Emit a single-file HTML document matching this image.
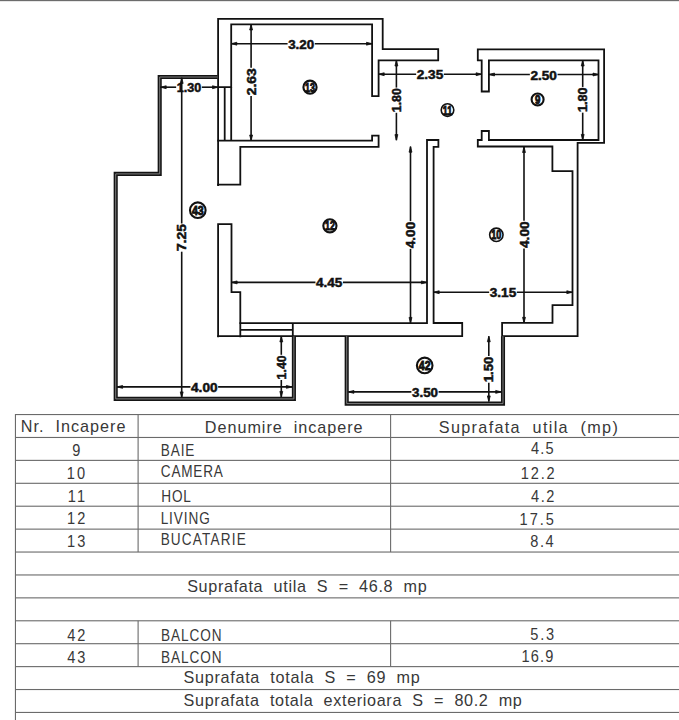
<!DOCTYPE html>
<html><head><meta charset="utf-8">
<style>
html,body{margin:0;padding:0;background:#fff;}
body{width:679px;height:720px;overflow:hidden;}
svg{display:block;}
.d{font-family:"Liberation Sans",sans-serif;font-weight:bold;font-size:12.3px;fill:#111;stroke:#111;stroke-width:0.5px;}
.l{font-family:"Liberation Sans",sans-serif;font-weight:bold;fill:#111;stroke:#111;stroke-width:0.9px;}
.t{font-family:"Liberation Sans",sans-serif;font-size:16.2px;fill:#383838;white-space:pre;}
</style></head>
<body>
<svg width="679" height="720" viewBox="0 0 679 720" xml:space="preserve">
<rect width="679" height="720" fill="#fff"/>
<rect x="0" y="0" width="679" height="1" fill="#6c6c6c"/>
<rect x="0" y="1" width="679" height="1" fill="#e6e6e6"/>
<path d="M218.1,185 V18.8 H382.7 V49.2 H438.2 V60.4 H378.6 V96.2 H372.1 V24.4 H231.2 V87.2 H218.1" fill="none" stroke="#111" stroke-width="1.8" stroke-linejoin="miter" stroke-linecap="square"/>
<line x1="224.7" y1="87.2" x2="224.7" y2="140.6" stroke="#111" stroke-width="1.8" stroke-linecap="butt"/>
<line x1="231.2" y1="87.2" x2="231.2" y2="140.6" stroke="#111" stroke-width="1.8" stroke-linecap="butt"/>
<path d="M218.1,140.6 H372.1 V135.7 H378.6 V146.8 H240.3 V184.6 H218.1" fill="none" stroke="#111" stroke-width="1.8" stroke-linejoin="miter" stroke-linecap="square"/>
<path d="M218.1,336.3 V224.1 H231.5 V292.2 H240.3 V336.3" fill="none" stroke="#111" stroke-width="1.8" stroke-linejoin="miter" stroke-linecap="square"/>
<path d="M240.3,323.2 H427.0 V140.0 H438.4 V146.9 H433.6 V323.0 H462.2 V336.2 H218.1" fill="none" stroke="#111" stroke-width="1.8" stroke-linejoin="miter" stroke-linecap="square"/>
<line x1="240.3" y1="329.8" x2="292.8" y2="329.8" stroke="#111" stroke-width="1.8" stroke-linecap="butt"/>
<line x1="292.8" y1="323.2" x2="292.8" y2="336.3" stroke="#111" stroke-width="1.8" stroke-linecap="butt"/>
<path d="M477.8,49.3 H604.1 V142.9 H577.6 V336.1 H502.1 V322.9 H552.5 V305.1 H572.5 V171.2 H552.4 V146.5 H477.8 V140.0 H481.7 V131.0 H488.9 V140.0 H598.5 V60.4 H488.9 V91.5 H481.7 V60.4 H477.8 Z" fill="none" stroke="#111" stroke-width="1.8" stroke-linejoin="miter" stroke-linecap="square"/>
<path d="M217.6,77.0 H159.7 V173.9 H115.7 V398.9 H293.9 V336.3" fill="none" stroke="#151515" stroke-width="4.1" stroke-linejoin="miter"/>
<path d="M217.6,77.0 H159.7 V173.9 H115.7 V398.9 H293.9 V336.3" fill="none" stroke="#8a8a8a" stroke-width="0.9" stroke-linejoin="miter"/>
<path d="M346.7,336.2 V403.6 H503.0 V336.2" fill="none" stroke="#151515" stroke-width="4.1" stroke-linejoin="miter"/>
<path d="M346.7,336.2 V403.6 H503.0 V336.2" fill="none" stroke="#8a8a8a" stroke-width="0.9" stroke-linejoin="miter"/>
<line x1="231.2" y1="43.7" x2="287.59999999999997" y2="43.7" stroke="#111" stroke-width="1.6" stroke-linecap="butt"/>
<line x1="314.8" y1="43.7" x2="372.1" y2="43.7" stroke="#111" stroke-width="1.6" stroke-linecap="butt"/>
<polygon points="231.20,43.70 236.80,42.25 236.80,45.15" fill="#111" stroke="#111" stroke-width="0.8" stroke-linejoin="round"/>
<polygon points="372.10,43.70 366.50,42.25 366.50,45.15" fill="#111" stroke="#111" stroke-width="0.8" stroke-linejoin="round"/>
<text x="301.2" y="44.7" text-anchor="middle" dominant-baseline="central" class="d" textLength="26" lengthAdjust="spacingAndGlyphs">3.20</text>
<line x1="251.1" y1="24.4" x2="251.1" y2="67.7" stroke="#111" stroke-width="1.6" stroke-linecap="butt"/>
<line x1="251.1" y1="95.89999999999999" x2="251.1" y2="140.6" stroke="#111" stroke-width="1.6" stroke-linecap="butt"/>
<polygon points="251.10,24.40 249.65,30.00 252.55,30.00" fill="#111" stroke="#111" stroke-width="0.8" stroke-linejoin="round"/>
<polygon points="251.10,140.60 249.65,135.00 252.55,135.00" fill="#111" stroke="#111" stroke-width="0.8" stroke-linejoin="round"/>
<text x="0" y="0" transform="translate(251.7,81.8) rotate(-90)" text-anchor="middle" dominant-baseline="central" class="d" textLength="27" lengthAdjust="spacingAndGlyphs">2.63</text>
<line x1="160.6" y1="87.2" x2="176.15" y2="87.2" stroke="#111" stroke-width="1.6" stroke-linecap="butt"/>
<line x1="201.85" y1="87.2" x2="218.1" y2="87.2" stroke="#111" stroke-width="1.6" stroke-linecap="butt"/>
<polygon points="160.60,87.20 166.20,85.75 166.20,88.65" fill="#111" stroke="#111" stroke-width="0.8" stroke-linejoin="round"/>
<polygon points="218.10,87.20 212.50,85.75 212.50,88.65" fill="#111" stroke="#111" stroke-width="0.8" stroke-linejoin="round"/>
<text x="189.0" y="88.2" text-anchor="middle" dominant-baseline="central" class="d" textLength="24.5" lengthAdjust="spacingAndGlyphs">1.30</text>
<line x1="181.7" y1="77.8" x2="181.7" y2="223.5" stroke="#111" stroke-width="1.6" stroke-linecap="butt"/>
<line x1="181.7" y1="251.7" x2="181.7" y2="397.5" stroke="#111" stroke-width="1.6" stroke-linecap="butt"/>
<polygon points="181.70,77.80 180.25,83.40 183.15,83.40" fill="#111" stroke="#111" stroke-width="0.8" stroke-linejoin="round"/>
<polygon points="181.70,397.50 180.25,391.90 183.15,391.90" fill="#111" stroke="#111" stroke-width="0.8" stroke-linejoin="round"/>
<text x="0" y="0" transform="translate(182.29999999999998,237.6) rotate(-90)" text-anchor="middle" dominant-baseline="central" class="d" textLength="27" lengthAdjust="spacingAndGlyphs">7.25</text>
<line x1="378.6" y1="74.2" x2="416.15" y2="74.2" stroke="#111" stroke-width="1.6" stroke-linecap="butt"/>
<line x1="443.85" y1="74.2" x2="481.7" y2="74.2" stroke="#111" stroke-width="1.6" stroke-linecap="butt"/>
<polygon points="378.60,74.20 384.20,72.75 384.20,75.65" fill="#111" stroke="#111" stroke-width="0.8" stroke-linejoin="round"/>
<polygon points="481.70,74.20 476.10,72.75 476.10,75.65" fill="#111" stroke="#111" stroke-width="0.8" stroke-linejoin="round"/>
<text x="430.0" y="75.2" text-anchor="middle" dominant-baseline="central" class="d" textLength="26.5" lengthAdjust="spacingAndGlyphs">2.35</text>
<line x1="396.4" y1="60.4" x2="396.4" y2="87.60000000000001" stroke="#111" stroke-width="1.6" stroke-linecap="butt"/>
<line x1="396.4" y1="112.8" x2="396.4" y2="140.2" stroke="#111" stroke-width="1.6" stroke-linecap="butt"/>
<polygon points="396.40,60.40 394.95,66.00 397.85,66.00" fill="#111" stroke="#111" stroke-width="0.8" stroke-linejoin="round"/>
<polygon points="396.40,140.20 394.95,134.60 397.85,134.60" fill="#111" stroke="#111" stroke-width="0.8" stroke-linejoin="round"/>
<text x="0" y="0" transform="translate(397.0,100.2) rotate(-90)" text-anchor="middle" dominant-baseline="central" class="d" textLength="24" lengthAdjust="spacingAndGlyphs">1.80</text>
<line x1="488.9" y1="74.5" x2="529.85" y2="74.5" stroke="#111" stroke-width="1.6" stroke-linecap="butt"/>
<line x1="557.5500000000001" y1="74.5" x2="598.6" y2="74.5" stroke="#111" stroke-width="1.6" stroke-linecap="butt"/>
<polygon points="488.90,74.50 494.50,73.05 494.50,75.95" fill="#111" stroke="#111" stroke-width="0.8" stroke-linejoin="round"/>
<polygon points="598.60,74.50 593.00,73.05 593.00,75.95" fill="#111" stroke="#111" stroke-width="0.8" stroke-linejoin="round"/>
<text x="543.7" y="75.5" text-anchor="middle" dominant-baseline="central" class="d" textLength="26.5" lengthAdjust="spacingAndGlyphs">2.50</text>
<line x1="582.7" y1="60.4" x2="582.7" y2="86.95" stroke="#111" stroke-width="1.6" stroke-linecap="butt"/>
<line x1="582.7" y1="112.64999999999999" x2="582.7" y2="140.0" stroke="#111" stroke-width="1.6" stroke-linecap="butt"/>
<polygon points="582.70,60.40 581.25,66.00 584.15,66.00" fill="#111" stroke="#111" stroke-width="0.8" stroke-linejoin="round"/>
<polygon points="582.70,140.00 581.25,134.40 584.15,134.40" fill="#111" stroke="#111" stroke-width="0.8" stroke-linejoin="round"/>
<text x="0" y="0" transform="translate(583.3000000000001,99.8) rotate(-90)" text-anchor="middle" dominant-baseline="central" class="d" textLength="24.5" lengthAdjust="spacingAndGlyphs">1.80</text>
<line x1="410.5" y1="146.6" x2="410.5" y2="221.15" stroke="#111" stroke-width="1.6" stroke-linecap="butt"/>
<line x1="410.5" y1="248.85" x2="410.5" y2="323.0" stroke="#111" stroke-width="1.6" stroke-linecap="butt"/>
<polygon points="410.50,146.60 409.05,152.20 411.95,152.20" fill="#111" stroke="#111" stroke-width="0.8" stroke-linejoin="round"/>
<polygon points="410.50,323.00 409.05,317.40 411.95,317.40" fill="#111" stroke="#111" stroke-width="0.8" stroke-linejoin="round"/>
<text x="0" y="0" transform="translate(411.1,235.0) rotate(-90)" text-anchor="middle" dominant-baseline="central" class="d" textLength="26.5" lengthAdjust="spacingAndGlyphs">4.00</text>
<line x1="524.0" y1="146.9" x2="524.0" y2="220.85" stroke="#111" stroke-width="1.6" stroke-linecap="butt"/>
<line x1="524.0" y1="248.54999999999998" x2="524.0" y2="322.9" stroke="#111" stroke-width="1.6" stroke-linecap="butt"/>
<polygon points="524.00,146.90 522.55,152.50 525.45,152.50" fill="#111" stroke="#111" stroke-width="0.8" stroke-linejoin="round"/>
<polygon points="524.00,322.90 522.55,317.30 525.45,317.30" fill="#111" stroke="#111" stroke-width="0.8" stroke-linejoin="round"/>
<text x="0" y="0" transform="translate(524.6,234.7) rotate(-90)" text-anchor="middle" dominant-baseline="central" class="d" textLength="26.5" lengthAdjust="spacingAndGlyphs">4.00</text>
<line x1="231.5" y1="282.4" x2="315.45" y2="282.4" stroke="#111" stroke-width="1.6" stroke-linecap="butt"/>
<line x1="342.95" y1="282.4" x2="427.0" y2="282.4" stroke="#111" stroke-width="1.6" stroke-linecap="butt"/>
<polygon points="231.50,282.40 237.10,280.95 237.10,283.85" fill="#111" stroke="#111" stroke-width="0.8" stroke-linejoin="round"/>
<polygon points="427.00,282.40 421.40,280.95 421.40,283.85" fill="#111" stroke="#111" stroke-width="0.8" stroke-linejoin="round"/>
<text x="329.2" y="283.4" text-anchor="middle" dominant-baseline="central" class="d" textLength="26.3" lengthAdjust="spacingAndGlyphs">4.45</text>
<line x1="433.6" y1="292.2" x2="489.15" y2="292.2" stroke="#111" stroke-width="1.6" stroke-linecap="butt"/>
<line x1="516.85" y1="292.2" x2="572.4" y2="292.2" stroke="#111" stroke-width="1.6" stroke-linecap="butt"/>
<polygon points="433.60,292.20 439.20,290.75 439.20,293.65" fill="#111" stroke="#111" stroke-width="0.8" stroke-linejoin="round"/>
<polygon points="572.40,292.20 566.80,290.75 566.80,293.65" fill="#111" stroke="#111" stroke-width="0.8" stroke-linejoin="round"/>
<text x="503.0" y="293.2" text-anchor="middle" dominant-baseline="central" class="d" textLength="26.5" lengthAdjust="spacingAndGlyphs">3.15</text>
<line x1="117.0" y1="386.9" x2="190.45000000000002" y2="386.9" stroke="#111" stroke-width="1.6" stroke-linecap="butt"/>
<line x1="218.15" y1="386.9" x2="292.0" y2="386.9" stroke="#111" stroke-width="1.6" stroke-linecap="butt"/>
<polygon points="117.00,386.90 122.60,385.45 122.60,388.35" fill="#111" stroke="#111" stroke-width="0.8" stroke-linejoin="round"/>
<polygon points="292.00,386.90 286.40,385.45 286.40,388.35" fill="#111" stroke="#111" stroke-width="0.8" stroke-linejoin="round"/>
<text x="204.3" y="387.9" text-anchor="middle" dominant-baseline="central" class="d" textLength="26.5" lengthAdjust="spacingAndGlyphs">4.00</text>
<line x1="281.3" y1="336.3" x2="281.3" y2="354.79999999999995" stroke="#111" stroke-width="1.6" stroke-linecap="butt"/>
<line x1="281.3" y1="380.0" x2="281.3" y2="397.0" stroke="#111" stroke-width="1.6" stroke-linecap="butt"/>
<polygon points="281.30,336.30 279.85,341.90 282.75,341.90" fill="#111" stroke="#111" stroke-width="0.8" stroke-linejoin="round"/>
<polygon points="281.30,397.00 279.85,391.40 282.75,391.40" fill="#111" stroke="#111" stroke-width="0.8" stroke-linejoin="round"/>
<text x="0" y="0" transform="translate(281.90000000000003,367.4) rotate(-90)" text-anchor="middle" dominant-baseline="central" class="d" textLength="24" lengthAdjust="spacingAndGlyphs">1.40</text>
<line x1="348.3" y1="391.9" x2="411.4" y2="391.9" stroke="#111" stroke-width="1.6" stroke-linecap="butt"/>
<line x1="438.6" y1="391.9" x2="501.3" y2="391.9" stroke="#111" stroke-width="1.6" stroke-linecap="butt"/>
<polygon points="348.30,391.90 353.90,390.45 353.90,393.35" fill="#111" stroke="#111" stroke-width="0.8" stroke-linejoin="round"/>
<polygon points="501.30,391.90 495.70,390.45 495.70,393.35" fill="#111" stroke="#111" stroke-width="0.8" stroke-linejoin="round"/>
<text x="425.0" y="392.9" text-anchor="middle" dominant-baseline="central" class="d" textLength="26" lengthAdjust="spacingAndGlyphs">3.50</text>
<line x1="488.8" y1="336.2" x2="488.8" y2="355.99999999999994" stroke="#111" stroke-width="1.6" stroke-linecap="butt"/>
<line x1="488.8" y1="382.8" x2="488.8" y2="401.5" stroke="#111" stroke-width="1.6" stroke-linecap="butt"/>
<polygon points="488.80,336.20 487.35,341.80 490.25,341.80" fill="#111" stroke="#111" stroke-width="0.8" stroke-linejoin="round"/>
<polygon points="488.80,401.50 487.35,395.90 490.25,395.90" fill="#111" stroke="#111" stroke-width="0.8" stroke-linejoin="round"/>
<text x="0" y="0" transform="translate(489.40000000000003,369.4) rotate(-90)" text-anchor="middle" dominant-baseline="central" class="d" textLength="25.6" lengthAdjust="spacingAndGlyphs">1.50</text>
<circle cx="310.0" cy="87.2" r="6.6" fill="none" stroke="#111" stroke-width="2.1"/>
<text x="310.0" y="91.8" text-anchor="middle" class="l" style="font-size:12.5px" textLength="9.9" lengthAdjust="spacingAndGlyphs">13</text>
<circle cx="447.5" cy="110.1" r="6.3" fill="none" stroke="#111" stroke-width="1.6"/>
<text x="447.5" y="114.69999999999999" text-anchor="middle" class="l" style="font-size:12.5px" textLength="9.4" lengthAdjust="spacingAndGlyphs">11</text>
<circle cx="537.6" cy="99.5" r="6.0" fill="none" stroke="#111" stroke-width="2.1"/>
<text x="537.6" y="104.1" text-anchor="middle" class="l" style="font-size:12.5px" textLength="5.4" lengthAdjust="spacingAndGlyphs">9</text>
<circle cx="197.8" cy="210.2" r="7.8" fill="none" stroke="#111" stroke-width="2.1"/>
<text x="197.8" y="214.79999999999998" text-anchor="middle" class="l" style="font-size:12.5px" textLength="11.7" lengthAdjust="spacingAndGlyphs">43</text>
<circle cx="329.9" cy="225.8" r="6.6" fill="none" stroke="#111" stroke-width="2.1"/>
<text x="329.9" y="230.4" text-anchor="middle" class="l" style="font-size:12.5px" textLength="9.9" lengthAdjust="spacingAndGlyphs">12</text>
<circle cx="496.35" cy="234.8" r="6.7" fill="none" stroke="#111" stroke-width="1.6"/>
<text x="496.35" y="239.4" text-anchor="middle" class="l" style="font-size:12.5px" textLength="10.1" lengthAdjust="spacingAndGlyphs">10</text>
<circle cx="424.7" cy="365.4" r="7.8" fill="none" stroke="#111" stroke-width="2.1"/>
<text x="424.7" y="370.0" text-anchor="middle" class="l" style="font-size:12.5px" textLength="11.7" lengthAdjust="spacingAndGlyphs">42</text>
<rect x="15" y="414.00" width="670" height="1.1" fill="#6a6a6a"/>
<rect x="15" y="436.92" width="670" height="1.1" fill="#6a6a6a"/>
<rect x="15" y="459.83" width="670" height="1.1" fill="#6a6a6a"/>
<rect x="15" y="482.75" width="670" height="1.1" fill="#6a6a6a"/>
<rect x="15" y="505.66" width="670" height="1.1" fill="#6a6a6a"/>
<rect x="15" y="528.58" width="670" height="1.1" fill="#6a6a6a"/>
<rect x="15" y="551.49" width="670" height="1.1" fill="#6a6a6a"/>
<rect x="15" y="574.41" width="670" height="1.1" fill="#6a6a6a"/>
<rect x="15" y="597.32" width="670" height="1.1" fill="#6a6a6a"/>
<rect x="15" y="620.24" width="670" height="1.1" fill="#6a6a6a"/>
<rect x="15" y="643.15" width="670" height="1.1" fill="#6a6a6a"/>
<rect x="15" y="666.07" width="670" height="1.1" fill="#6a6a6a"/>
<rect x="15" y="688.98" width="670" height="1.1" fill="#6a6a6a"/>
<rect x="15" y="711.89" width="670" height="1.1" fill="#6a6a6a"/>
<rect x="14.9" y="414" width="1.1" height="310" fill="#6a6a6a"/>
<rect x="137.54999999999998" y="414.55" width="1.1" height="137.49" fill="#6a6a6a"/>
<rect x="137.54999999999998" y="620.785" width="1.1" height="45.83" fill="#6a6a6a"/>
<rect x="390.05" y="414.55" width="1.1" height="137.49" fill="#6a6a6a"/>
<rect x="390.05" y="620.785" width="1.1" height="45.83" fill="#6a6a6a"/>
<text x="0" y="0" transform="translate(20.82,432.0) scale(1.0,1)" class="t" textLength="104.63" lengthAdjust="spacing">Nr.  Incapere</text>
<text x="0" y="0" transform="translate(204.82,432.7) scale(1.0,1)" class="t" textLength="157.75" lengthAdjust="spacing">Denumire  incapere</text>
<text x="0" y="0" transform="translate(438.80,433.4) scale(1.0,1)" class="t" textLength="179.01" lengthAdjust="spacing">Suprafata  utila  (mp)</text>
<text x="0" y="0" transform="translate(72.16,455.9) scale(0.9,1)" class="t" textLength="8.19" lengthAdjust="spacing">9</text>
<text x="0" y="0" transform="translate(66.80,478.7) scale(0.9,1)" class="t" textLength="20.43" lengthAdjust="spacing">10</text>
<text x="0" y="0" transform="translate(67.82,501.6) scale(0.9,1)" class="t" textLength="19.26" lengthAdjust="spacing">11</text>
<text x="0" y="0" transform="translate(66.96,524.3) scale(0.9,1)" class="t" textLength="20.34" lengthAdjust="spacing">12</text>
<text x="0" y="0" transform="translate(66.96,546.6) scale(0.9,1)" class="t" textLength="20.34" lengthAdjust="spacing">13</text>
<text x="0" y="0" transform="translate(160.82,455.7) scale(0.84,1)" class="t" textLength="39.89" lengthAdjust="spacing">BAIE</text>
<text x="0" y="0" transform="translate(160.82,476.6) scale(0.84,1)" class="t" textLength="73.79" lengthAdjust="spacing">CAMERA</text>
<text x="0" y="0" transform="translate(161.32,502.1) scale(0.84,1)" class="t" textLength="35.09" lengthAdjust="spacing">HOL</text>
<text x="0" y="0" transform="translate(160.64,523.9) scale(0.84,1)" class="t" textLength="58.49" lengthAdjust="spacing">LIVING</text>
<text x="0" y="0" transform="translate(160.64,544.6) scale(0.84,1)" class="t" textLength="101.38" lengthAdjust="spacing">BUCATARIE</text>
<text x="0" y="0" transform="translate(531.02,453.5) scale(0.9,1)" class="t" textLength="25.06" lengthAdjust="spacing">4.5</text>
<text x="0" y="0" transform="translate(520.82,478.7) scale(0.9,1)" class="t" textLength="37.67" lengthAdjust="spacing">12.2</text>
<text x="0" y="0" transform="translate(531.02,501.5) scale(0.9,1)" class="t" textLength="26.08" lengthAdjust="spacing">4.2</text>
<text x="0" y="0" transform="translate(519.62,524.9) scale(0.9,1)" class="t" textLength="38.19" lengthAdjust="spacing">17.5</text>
<text x="0" y="0" transform="translate(530.34,546.5) scale(0.9,1)" class="t" textLength="25.92" lengthAdjust="spacing">8.4</text>
<text x="0" y="0" transform="translate(187.14,592.1) scale(1.0,1)" class="t" textLength="239.52" lengthAdjust="spacing">Suprafata  utila  S  =  46.8  mp</text>
<text x="0" y="0" transform="translate(67.18,640.5) scale(0.9,1)" class="t" textLength="20.24" lengthAdjust="spacing">42</text>
<text x="0" y="0" transform="translate(67.18,662.5) scale(0.9,1)" class="t" textLength="20.19" lengthAdjust="spacing">43</text>
<text x="0" y="0" transform="translate(161.00,640.5) scale(0.84,1)" class="t" textLength="72.01" lengthAdjust="spacing">BALCON</text>
<text x="0" y="0" transform="translate(161.00,662.5) scale(0.84,1)" class="t" textLength="72.01" lengthAdjust="spacing">BALCON</text>
<text x="0" y="0" transform="translate(530.16,639.9) scale(0.9,1)" class="t" textLength="26.76" lengthAdjust="spacing">5.3</text>
<text x="0" y="0" transform="translate(521.48,662.2) scale(0.9,1)" class="t" textLength="35.53" lengthAdjust="spacing">16.9</text>
<text x="0" y="0" transform="translate(183.62,682.6) scale(1.0,1)" class="t" textLength="236.16" lengthAdjust="spacing">Suprafata  totala  S  =  69  mp</text>
<text x="0" y="0" transform="translate(183.62,705.9) scale(1.0,1)" class="t" textLength="338.28" lengthAdjust="spacing">Suprafata  totala  exterioara  S  =  80.2  mp</text>
</svg>
</body></html>
